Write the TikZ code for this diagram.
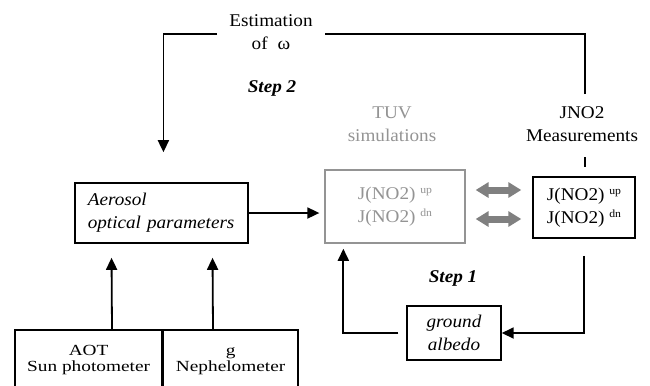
\documentclass[tikz,border=0pt]{standalone}
\usepackage{fontspec}
\setmainfont{Liberation Serif}[FakeStretch=1.07]
\newfontfamily\widefont{Liberation Serif}[FakeStretch=1.25]
\usetikzlibrary{arrows.meta,calc}
\definecolor{tuvgray}{gray}{0.58}
\definecolor{arrgray}{gray}{0.5}
\newcommand{\supx}[1]{\raisebox{6bp}{\fontsize{11}{11}\selectfont #1}}
\begin{document}
\begin{tikzpicture}[x=1bp,y=-1bp,
  every node/.style={font=\fontsize{18}{23}\selectfont, inner sep=0pt},
  bx/.style={draw, line width=1.8bp, align=center},
  lab/.style={align=center},
  steplab/.style={font=\fontsize{18}{23}\selectfont\bfseries\itshape},
  ln/.style={line width=1.8bp},
  arr/.style={line width=1.8bp, -{Triangle[length=12bp,width=11bp]}},
  garr/.style={line width=7bp, arrgray, {Triangle[length=13bp,width=15bp]}-{Triangle[length=13bp,width=15bp]}},
  botbox/.style={bx, anchor=north west, inner ysep=15bp, font=\widefont\fontsize{15.5}{16}\selectfont}
]
\clip (0,0) rectangle (650,385);
\fill[white] (0,0) rectangle (650,385);

% labels
\node[lab] (est) at (271,32.5) {Estimation\\of\hspace{10bp}ω};
\node[steplab] (s2) at (272,88.5) {Step 2};
\node[lab, text=tuvgray] (tuvlab) at (392,124.5) {TUV\\simulations};
\node[lab] (jlab) at (582,124.5) {JNO2\\Measurements};
\node[steplab] (s1) at (453,278.5) {Step 1};

% boxes
\node[bx, minimum width=173, minimum height=60, align=left, text width=148] (aer) at (161.5,213)
  {\itshape Aerosol\\ \itshape optical parameters};
\node[bx, draw=tuvgray, text=tuvgray, minimum width=140, minimum height=73] (tuv) at (395,206.5)
  {J(NO2) \supx{up}\\J(NO2) \supx{dn}};
\node[bx, minimum width=102, minimum height=61] (jbox) at (584,207.5)
  {J(NO2) \supx{up}\\J(NO2) \supx{dn}};
\node[bx, minimum width=94, minimum height=54, font=\fontsize{18}{23}\selectfont\itshape] (gnd) at (454,333)
  {ground\\albedo};
\node[botbox, minimum width=148] (aot) at (14,329)
  {AOT\\Sun photometer};
\node[botbox, minimum width=136] (gb) at (162,329)
  {\vphantom{A}g\\Nephelometer};

% coordinates
\coordinate (c1) at (585,94);
\coordinate (eR) at (325,34);
\coordinate (eL) at (217,34);
\coordinate (c2) at (585,157);
\coordinate (ya) at (0,190);
\coordinate (yb) at (0,219);

% connectors
\draw[ln] (c1) |- (eR);
\draw[arr, shorten >=30bp] (eL) -| ($(aer.north west)+(89,0)$);
\draw[ln] (c2) -- ($(jbox.north)+(1,-9)$);
\draw[arr, shorten >=5bp] (aer.east) -- (aer.east -| tuv.west);
\draw[arr, shorten >=14bp] ($(aot.north west)+(98,0)$) -- ($(aer.south west)+(37,0)$);
\draw[arr, shorten >=14bp] ($(gb.north west)+(51,0)$) -- ($(aer.south west)+(138,0)$);
\draw[arr, shorten <=17bp] (jbox.south) |- (gnd.east);
\draw[arr, shorten <=8bp, shorten >=5bp] (gnd.west) -| ($(tuv.south west)+(19,0)$);
\draw[garr, shorten <=10bp, shorten >=11bp] (tuv.east |- ya) -- (jbox.west |- ya);
\draw[garr, shorten <=10bp, shorten >=11bp] (tuv.east |- yb) -- (jbox.west |- yb);
\end{tikzpicture}
\end{document}
